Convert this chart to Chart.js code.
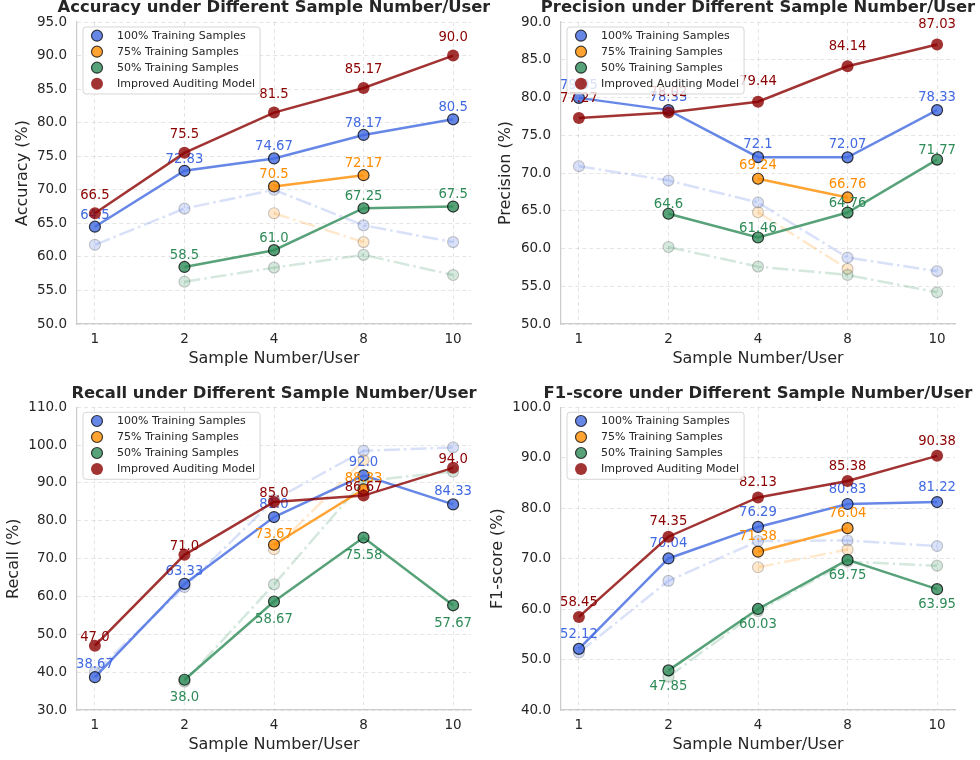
<!DOCTYPE html>
<html lang="en">
<head>
<meta charset="UTF-8">
<title>Results under Different Sample Number/User</title>
<style>
    body { margin: 0; background: #fff; }
    .wrap { position: relative; width: 980px; height: 760px; }
    .wrap canvas { position: absolute; }
</style>
</head>
<body>
<div class="wrap">
    <canvas id="accChart" width="490" height="380" style="left:0;top:0"></canvas>
    <canvas id="precChart" width="490" height="380" style="left:490px;top:0"></canvas>
    <canvas id="recChart" width="490" height="380" style="left:0;top:380px"></canvas>
    <canvas id="f1Chart" width="490" height="380" style="left:490px;top:380px"></canvas>
</div>

<script src="https://cdn.jsdelivr.net/npm/chart.js"></script>
<script>
// x categories and legend names
const categories = ['1', '2', '4', '8', '10'];
const seriesNames = ['100% Training Samples', '75% Training Samples', '50% Training Samples', 'Improved Auditing Model'];

// Accuracy
const accFull = [64.5, 72.83, 74.67, 78.17, 80.5];
const accThreeQ = [null, null, 70.5, 72.17, null];
const accHalf = [null, 58.5, 61.0, 67.25, 67.5];
const accImproved = [66.5, 75.5, 81.5, 85.17, 90.0];
const accFullBase = [61.8, 67.2, 70.0, 64.7, 62.2];
const accThreeQBase = [null, null, 66.5, 62.2, null];
const accHalfBase = [null, 56.3, 58.4, 60.3, 57.3];

// Precision
const precFull = [79.95, 78.33, 72.1, 72.07, 78.33];
const precThreeQ = [null, null, 69.24, 66.76, null];
const precHalf = [null, 64.6, 61.46, 64.76, 71.77];
const precImproved = [77.27, 78.02, 79.44, 84.14, 87.03];
const precFullBase = [70.9, 69.0, 66.1, 58.8, 57.0];
const precThreeQBase = [null, null, 64.8, 57.3, null];
const precHalfBase = [null, 60.2, 57.6, 56.5, 54.2];

// Recall
const recFull = [38.67, 63.33, 81.0, 92.0, 84.33];
const recThreeQ = [null, null, 73.67, 88.33, null];
const recHalf = [null, 38.0, 58.67, 75.58, 57.67];
const recImproved = [47.0, 71.0, 85.0, 86.67, 94.0];
const recFullBase = [40.0, 62.5, 85.5, 98.5, 99.4];
const recThreeQBase = [null, null, 72.5, 96.0, null];
const recHalfBase = [null, 37.5, 63.2, 90.5, 93.0];

// F1-score
const f1Full = [52.12, 70.04, 76.29, 80.83, 81.22];
const f1ThreeQ = [null, null, 71.38, 76.04, null];
const f1Half = [null, 47.85, 60.03, 69.75, 63.95];
const f1Improved = [58.45, 74.35, 82.13, 85.38, 90.38];
const f1FullBase = [51.4, 65.6, 73.5, 73.6, 72.5];
const f1ThreeQBase = [null, null, 68.3, 71.8, null];
const f1HalfBase = [null, 46.6, 59.6, 69.4, 68.6];

const BLUE = '65, 105, 225', ORANGE = '255, 140, 0', GREEN = '46, 139, 87', RED = '139, 0, 0';
const seriesRgb = [BLUE, ORANGE, GREEN, RED];
const FONT = "'DejaVu Sans', sans-serif";
const TEXT = '#262626';

Chart.defaults.font.family = FONT;
Chart.defaults.color = TEXT;

function fmt(v) {
    return Number.isInteger(v) ? v.toFixed(1) : String(v);
}
function pts(vals) {
    return vals.map((v, i) => ({ x: i, y: v }));
}

function solid(idx, vals, order, labelDy) {
    const rgb = seriesRgb[idx];
    const edge = idx < 3;
    return {
        label: seriesNames[idx], data: pts(vals), order,
        borderColor: `rgba(${rgb}, 0.8)`, backgroundColor: `rgba(${rgb}, 0.8)`,
        borderWidth: 2.5,
        pointRadius: edge ? 5.5 : 6, pointHoverRadius: edge ? 5.5 : 6,
        pointBorderColor: edge ? 'rgba(0, 0, 0, 0.75)' : `rgba(${rgb}, 0.8)`,
        pointBorderWidth: edge ? 1.2 : 0,
        labelColor: `rgb(${rgb})`, labelDy
    };
}

function faded(vals, rgb, order) {
    return {
        label: '', data: pts(vals), order, faded: true,
        borderColor: `rgba(${rgb}, 0.2)`, backgroundColor: `rgba(${rgb}, 0.2)`,
        borderWidth: 2.5, borderDash: [16, 4, 2.5, 4],
        pointRadius: 5.5, pointHoverRadius: 5.5,
        pointBorderColor: 'rgba(0, 0, 0, 0.2)', pointBorderWidth: 1.2
    };
}

// value labels, drawn right after each series
const pointLabels = {
    id: 'pointLabels',
    afterDatasetDraw(chart, args) {
        const ds = chart.data.datasets[args.index];
        if (ds.faded) return;
        const ctx = chart.ctx;
        ctx.save();
        ctx.font = `13.2px ${FONT}`;
        ctx.fillStyle = ds.labelColor;
        ctx.textAlign = 'center';
        ctx.textBaseline = 'middle';
        args.meta.data.forEach((pt, i) => {
            const v = ds.data[i].y;
            if (v == null) return;
            ctx.fillText(fmt(v), pt.x, pt.y + ds.labelDy);
        });
        ctx.restore();
    }
};

// legend inside the upper-left corner of the plot
const insetLegend = {
    id: 'insetLegend',
    afterDraw(chart) {
        const { ctx, chartArea } = chart;
        const x0 = chartArea.left + 6, y0 = chartArea.top + 5;
        ctx.save();
        ctx.font = `11px ${FONT}`;
        const tw = Math.max(...seriesNames.map(n => ctx.measureText(n).width));
        const w = 34 + tw + 5, h = 67, r = 3;
        ctx.beginPath();
        ctx.moveTo(x0 + r, y0);
        ctx.arcTo(x0 + w, y0, x0 + w, y0 + h, r);
        ctx.arcTo(x0 + w, y0 + h, x0, y0 + h, r);
        ctx.arcTo(x0, y0 + h, x0, y0, r);
        ctx.arcTo(x0, y0, x0 + w, y0, r);
        ctx.closePath();
        ctx.fillStyle = 'rgba(255, 255, 255, 0.8)';
        ctx.fill();
        ctx.strokeStyle = 'rgba(204, 204, 204, 0.8)';
        ctx.lineWidth = 1;
        ctx.stroke();
        seriesNames.forEach((name, i) => {
            const cy = y0 + 8.7 + 16 * i;
            ctx.beginPath();
            ctx.arc(x0 + 14, cy, i < 3 ? 5.5 : 6, 0, Math.PI * 2);
            ctx.fillStyle = `rgba(${seriesRgb[i]}, 0.8)`;
            ctx.fill();
            if (i < 3) {
                ctx.strokeStyle = 'rgba(0, 0, 0, 0.75)';
                ctx.lineWidth = 1.2;
                ctx.stroke();
            }
            ctx.fillStyle = TEXT;
            ctx.textAlign = 'left';
            ctx.textBaseline = 'middle';
            ctx.fillText(name, x0 + 34, cy);
        });
        ctx.restore();
    }
};

// title centred over the plot area
const panelTitle = {
    id: 'panelTitle',
    afterDraw(chart, args, opts) {
        const { ctx, chartArea } = chart;
        ctx.save();
        ctx.font = `bold 16.4px ${FONT}`;
        ctx.fillStyle = TEXT;
        ctx.textAlign = 'center';
        ctx.textBaseline = 'middle';
        ctx.fillText(opts.text, (chartArea.left + chartArea.right) / 2, chartArea.top - opts.gap);
        ctx.restore();
    }
};

function makeChart(id, cfg) {
    const datasets = [
        faded(cfg.base[0], BLUE, 6),
        faded(cfg.base[1], ORANGE, 5),
        faded(cfg.base[2], GREEN, 4),
        solid(0, cfg.series[0], 3, cfg.dy[0]),
        solid(1, cfg.series[1], 2, cfg.dy[1]),
        solid(2, cfg.series[2], 1, cfg.dy[2]),
        solid(3, cfg.series[3], 0, cfg.dy[3])
    ];
    const grid = { color: 'rgba(0, 0, 0, 0.1)', drawTicks: false };
    const border = { dash: [4, 3], color: '#cccccc', width: 1.25 };
    new Chart(document.getElementById(id), {
        type: 'line',
        data: { datasets },
        options: {
            responsive: false,
            animation: false,
            devicePixelRatio: 1,
            layout: { padding: cfg.pad },
            plugins: {
                legend: { display: false },
                tooltip: { enabled: false },
                panelTitle: { text: cfg.title, gap: cfg.titleGap }
            },
            scales: {
                x: {
                    type: 'linear', min: -0.2, max: 4.2,
                    afterBuildTicks: s => { s.ticks = categories.map((c, i) => ({ value: i })); },
                    afterFit: s => { s.height = cfg.xh; },
                    ticks: { callback: v => categories[v], padding: 7, autoSkip: false, color: TEXT, font: { size: 13.5 } },
                    grid, border,
                    title: { display: true, text: 'Sample Number/User', color: TEXT,
                             font: { size: 16, lineHeight: 1 }, padding: { top: 0, bottom: cfg.xTitlePad } }
                },
                y: {
                    min: cfg.yMin, max: cfg.yMax,
                    afterFit: s => { s.width = cfg.yw; },
                    ticks: { stepSize: cfg.yStep, padding: 10, color: TEXT, font: { size: 13.5 },
                             callback: v => v.toFixed(1) },
                    grid, border,
                    title: { display: true, text: cfg.yLabel, color: TEXT,
                             font: { size: 16, lineHeight: 1 }, padding: { top: cfg.yTitlePad, bottom: 0 } }
                }
            }
        },
        plugins: [pointLabels, insetLegend, panelTitle]
    });
}

makeChart('accChart', {
    title: 'Accuracy under Different Sample Number/User', titleGap: 14.7,
    yLabel: 'Accuracy (%)', yMin: 50, yMax: 95, yStep: 5,
    series: [accFull, accThreeQ, accHalf, accImproved],
    base: [accFullBase, accThreeQBase, accHalfBase],
    dy: [-11.5, -11.5, -11.5, -18],
    pad: { left: 0, right: 19, top: 22, bottom: 0 }, yw: 77, xh: 56,
    yTitlePad: 14.7, xTitlePad: 12.7
});

makeChart('precChart', {
    title: 'Precision under Different Sample Number/User', titleGap: 14.7,
    yLabel: 'Precision (%)', yMin: 50, yMax: 90, yStep: 5,
    series: [precFull, precThreeQ, precHalf, precImproved],
    base: [precFullBase, precThreeQBase, precHalfBase],
    dy: [-12.5, -12.7, -9, -20],
    pad: { left: 0, right: 25, top: 22, bottom: 0 }, yw: 71, xh: 56,
    yTitlePad: 8, xTitlePad: 12.7
});

makeChart('recChart', {
    title: 'Recall under Different Sample Number/User', titleGap: 14,
    yLabel: 'Recall (%)', yMin: 30, yMax: 110, yStep: 10,
    series: [recFull, recThreeQ, recHalf, recImproved],
    base: [recFullBase, recThreeQBase, recHalfBase],
    dy: [-12.5, -10.5, 18, -8.3],
    pad: { left: 0, right: 19, top: 27.3, bottom: 0 }, yw: 77, xh: 50,
    yTitlePad: 6, xTitlePad: 7
});

makeChart('f1Chart', {
    title: 'F1-score under Different Sample Number/User', titleGap: 14,
    yLabel: 'F1-score (%)', yMin: 40, yMax: 100, yStep: 10,
    series: [f1Full, f1ThreeQ, f1Half, f1Improved],
    base: [f1FullBase, f1ThreeQBase, f1HalfBase],
    dy: [-14.7, -14.7, 15.7, -14.7],
    pad: { left: 0, right: 25, top: 27.3, bottom: 0 }, yw: 71, xh: 50,
    yTitlePad: 0, xTitlePad: 7
});
</script>
</body>
</html>
